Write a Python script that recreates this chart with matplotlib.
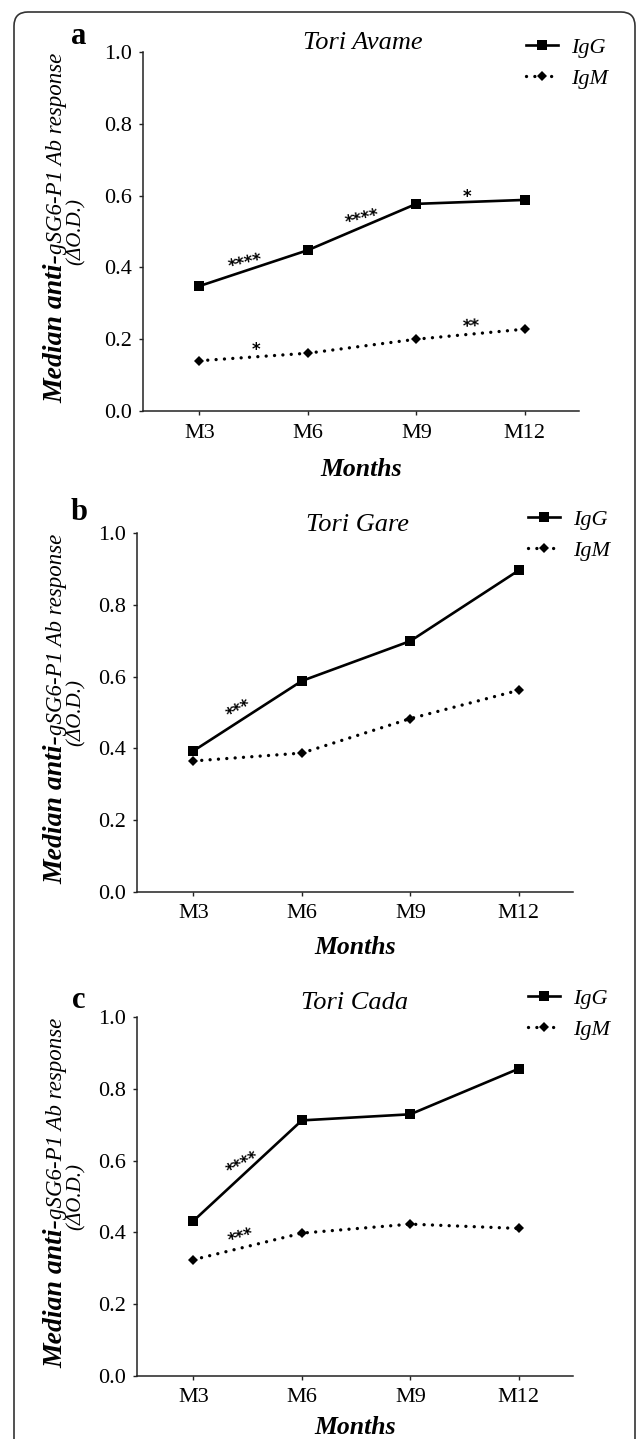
import numpy as np
import matplotlib
matplotlib.use('Agg')
import matplotlib.pyplot as plt
from matplotlib.patches import FancyBboxPatch
from matplotlib.transforms import IdentityTransform

W, H = 637, 1439  # output size in pixels (dpi 100)

# Data
months = ['M3', 'M6', 'M9', 'M12']
titles = ['Tori Avame', 'Tori Gare', 'Tori Cada']
tags = ['a', 'b', 'c']

igg_avame = [0.348, 0.448, 0.577, 0.588]
igm_avame = [0.140, 0.161, 0.200, 0.228]
igg_gare = [0.393, 0.588, 0.699, 0.896]
igm_gare = [0.365, 0.387, 0.483, 0.562]
igg_cada = [0.432, 0.712, 0.729, 0.856]
igm_cada = [0.324, 0.398, 0.423, 0.411]

# significance marks: (x between months, y, label, angle)
stars_avame = [(0.42, 0.421, '****', 13), (1.50, 0.546, '****', 14),
               (2.47, 0.606, '*', 0), (0.52, 0.179, '*', 0),
               (2.51, 0.244, '**', 3)]
stars_gare = [(0.405, 0.515, '***', 28)]
stars_cada = [(0.44, 0.599, '****', 28), (0.43, 0.397, '***', 17)]

FONT = 'Liberation Serif'
plt.rcParams['font.family'] = FONT

fig = plt.figure(figsize=(W / 100, H / 100), dpi=100)
fig.patch.set_facecolor('white')

# rounded frame around the whole figure (open at the bottom)
frame = FancyBboxPatch((14, -20), 621, H - 12 + 20,
                       boxstyle='round,pad=0,rounding_size=14',
                       transform=IdentityTransform(), facecolor='none',
                       edgecolor='#333333', linewidth=1.2)
fig.add_artist(frame)

# pixel boxes (left, top, right, bottom) of each plot area
boxes = [(143, 52, 579, 411), (137, 533, 573, 892), (137, 1017, 573, 1376)]
title_pos = [(363, 43), (357, 525), (355, 1003)]
tag_pos = [(79, 37), (79, 513), (79, 1001)]
legend_pos = [(526, 63), (528, 535), (528, 1014)]
xlabel_gap = [58, 55, 51]

panels = [(igg_avame, igm_avame, stars_avame),
          (igg_gare, igm_gare, stars_gare),
          (igg_cada, igm_cada, stars_cada)]

renderer = fig.canvas.get_renderer()

for i, (igg, igm, stars) in enumerate(panels):
    left, top, right, bottom = boxes[i]
    ax = fig.add_axes([left / W, 1 - bottom / H, (right - left) / W, (bottom - top) / H])
    x = np.arange(len(months))

    ax.plot(x, igg, color='black', lw=1.9, marker='s', ms=7.2, mew=0,
            label='IgG', clip_on=False)
    ax.plot(x, igm, color='black', lw=2.4, linestyle=(0, (0.01, 2.5)),
            dash_capstyle='round', marker='D', ms=4.9, mew=0, label='IgM',
            clip_on=False)

    ax.set_xlim(-0.52, 3.5)
    ax.set_ylim(0, 1.0)
    ax.set_xticks(x)
    ax.set_xticklabels(months)
    ax.set_yticks(np.arange(0, 1.01, 0.2))
    ax.set_yticklabels(['%.1f' % v for v in np.arange(0, 1.01, 0.2)])
    for side in ['top', 'right']:
        ax.spines[side].set_visible(False)
    for side in ['left', 'bottom']:
        ax.spines[side].set_linewidth(1.1)
        ax.spines[side].set_color('#222222')
    ax.tick_params(direction='out', length=3, width=1.0, color='#222222',
                   labelsize=16, pad=5)
    ax.tick_params(axis='x', pad=6)

    ax.set_xlabel('Months', fontsize=18.5, fontstyle='italic', fontweight='bold',
                  va='center')
    ax.xaxis.set_label_coords(0.5, -xlabel_gap[i] / (bottom - top))

    for sx, sy, s, ang in stars:
        off = 2.5
        ax.annotate(s, xy=(sx, sy),
                    xytext=(off * np.sin(np.radians(ang)), -off * np.cos(np.radians(ang))),
                    textcoords='offset points', rotation=ang, rotation_mode='anchor',
                    ha='center', va='center', fontsize=12, fontweight='bold',
                    family='DejaVu Sans')

    tx, ty = title_pos[i]
    fig.text(tx, H - ty, titles[i], transform=IdentityTransform(), ha='center',
             va='center', fontsize=19, fontstyle='italic')
    gx, gy = tag_pos[i]
    fig.text(gx, H - gy, tags[i], transform=IdentityTransform(), ha='center',
             va='center', fontsize=22, fontweight='bold')

    lx, ly = legend_pos[i]
    ax.legend(loc='center left', bbox_to_anchor=(lx, H - ly),
              bbox_transform=IdentityTransform(), frameon=False,
              borderpad=0, borderaxespad=0, handlelength=1.45,
              handletextpad=0.6, labelspacing=0.48,
              prop={'family': FONT, 'style': 'italic', 'size': 16})

    # y label: two weights on the first line, unit on the second
    cy = H - (top + bottom) / 2
    t1 = fig.text(0, 0, 'Median anti-', transform=IdentityTransform(), rotation=90,
                  rotation_mode='anchor', ha='left', va='baseline',
                  fontsize=20, fontstyle='italic', fontweight='bold')
    t2 = fig.text(0, 0, 'gSG6-P1 Ab response', transform=IdentityTransform(),
                  rotation=90, rotation_mode='anchor', ha='left', va='baseline',
                  fontsize=16.5, fontstyle='italic')
    l1 = t1.get_window_extent(renderer).height
    l2 = t2.get_window_extent(renderer).height
    y0 = cy - (l1 + l2) / 2 + 4
    t1.set_position((62, y0))
    t2.set_position((62, y0 + l1))
    fig.text(81, cy, '(\u0394O.D.)', transform=IdentityTransform(), rotation=90,
             rotation_mode='anchor', ha='center', va='baseline',
             fontsize=15, fontstyle='italic')

fig.savefig('out.png', dpi=100)
